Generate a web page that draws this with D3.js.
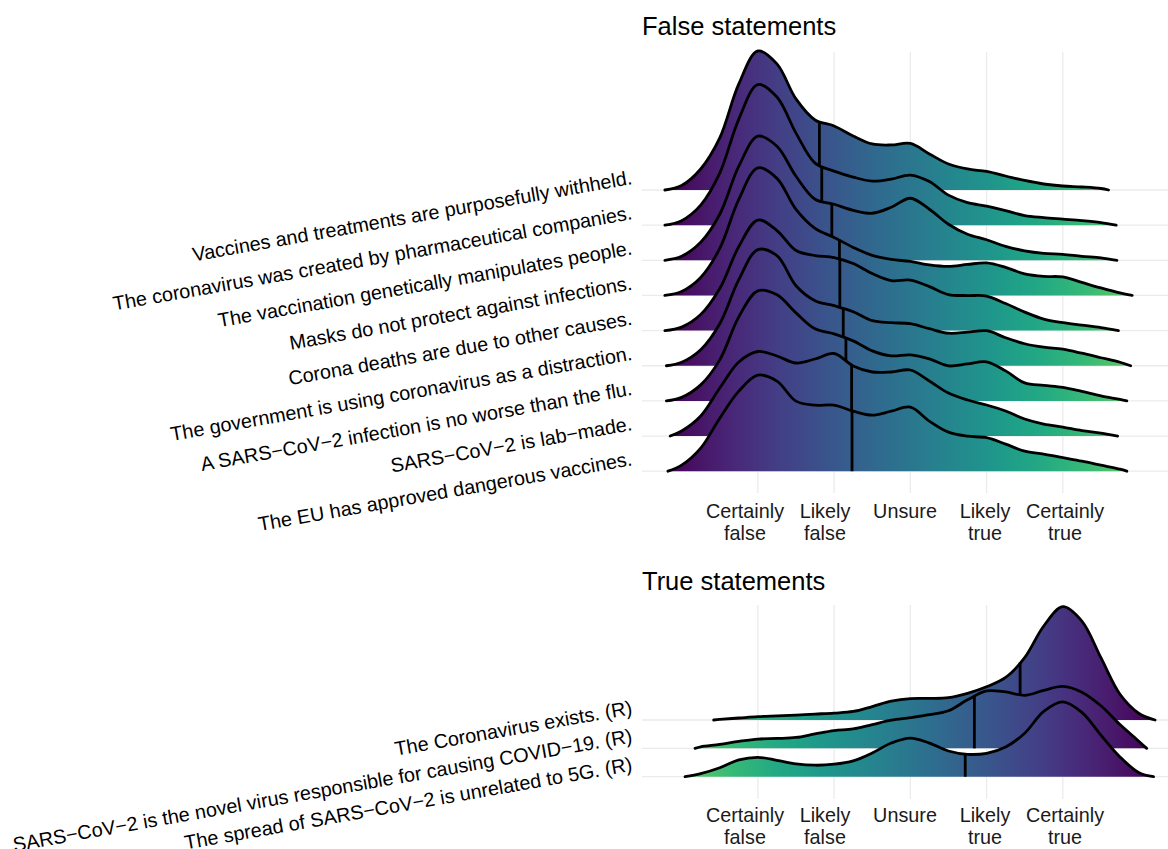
<!DOCTYPE html>
<html>
<head>
<meta charset="utf-8">
<script src="https://cdn.jsdelivr.net/npm/d3@7"></script>
<style>
  html, body { margin: 0; padding: 0; background: #ffffff; }
  svg { display: block; font-family: "Liberation Sans", Arial, Helvetica, sans-serif; }
</style>
</head>
<body>
<svg id="chart" width="1168" height="849"></svg>
<script>
// ---- Response scale -------------------------------------------------------
const ratingLevels = [1, 2, 3, 4, 5];
const ratingLabels = [["Certainly", "false"], ["Likely", "false"], ["Unsure"], ["Likely", "true"], ["Certainly", "true"]];

// Points (in rating units) at which each density is tabulated
const densityGrid = [-0.25, 0, 0.25, 0.5, 0.75, 1, 1.25, 1.5, 1.75, 2, 2.25, 2.5, 2.75,
                     3, 3.25, 3.5, 3.75, 4, 4.25, 4.5, 4.75, 5, 5.25, 5.5, 5.75, 6, 6.25];

// ---- False statements -----------------------------------------------------
const falseStatements = [
  "Vaccines and treatments are purposefully withheld.",
  "The coronavirus was created by pharmaceutical companies.",
  "The vaccination genetically manipulates people.",
  "Masks do not protect against infections.",
  "Corona deaths are due to other causes.",
  "The government is using coronavirus as a distraction.",
  "A SARS\u2212CoV\u22122 infection is no worse than the flu.",
  "SARS\u2212CoV\u22122 is lab\u2212made.",
  "The EU has approved dangerous vaccines."
];
const falseFrom  = [-0.22, -0.22, -0.22, -0.22, -0.22, -0.2, -0.2, -0.15, -0.18];
const falseTo    = [5.6, 5.7, 5.71, 5.91, 5.73, 5.89, 5.84, 5.72, 5.84];
const falseMeans = [1.807, 1.838, 1.97, 2.07, 2.075, 2.12, 2.155, 2.23, 2.235];
const falseDensity = [
  [null, .018, .084, .208, .424, .556, .504, .364, .28, .256, .216, .184, .18, .186, .144, .104, .084, .074, .056, .038, .024, .016, .012, .006, null, null, null],
  [null, .018, .08, .208, .424, .562, .512, .368, .248, .216, .192, .176, .184, .2, .174, .12, .09, .076, .058, .038, .03, .024, .018, .01, null, null, null],
  [null, .016, .072, .184, .376, .496, .456, .336, .244, .224, .2, .188, .212, .248, .204, .144, .104, .082, .056, .038, .028, .024, .016, .01, null, null, null],
  [null, .016, .072, .188, .384, .51, .468, .344, .268, .232, .192, .16, .144, .136, .122, .116, .124, .13, .112, .086, .076, .074, .052, .03, .01, null, null],
  [null, .014, .064, .168, .336, .442, .4, .32, .3, .292, .268, .228, .2, .202, .176, .144, .14, .138, .108, .074, .046, .032, .022, .012, null, null, null],
  [null, .014, .064, .168, .344, .464, .44, .32, .26, .24, .216, .18, .172, .168, .148, .13, .134, .14, .112, .088, .074, .066, .05, .032, .014, null, null],
  [null, .014, .064, .164, .336, .44, .424, .352, .288, .268, .24, .2, .18, .184, .168, .14, .148, .156, .12, .072, .062, .054, .038, .02, .006, null, null],
  [null, .02, .08, .192, .296, .338, .32, .292, .308, .33, .28, .256, .256, .264, .22, .172, .144, .124, .1, .068, .048, .036, .022, .012, null, null, null],
  [null, .024, .092, .212, .32, .384, .36, .28, .264, .264, .24, .224, .24, .256, .2, .156, .14, .134, .108, .08, .068, .054, .04, .024, .008, null, null]
];

// ---- True statements (reverse coded) --------------------------------------
const trueStatements = [
  "The Coronavirus exists. (R)",
  "SARS\u2212CoV\u22122 is the novel virus responsible for causing COVID\u221219. (R)",
  "The spread of SARS\u2212CoV\u22122 is unrelated to 5G. (R)"
];
const trueFrom  = [0.42, 0.176, 0.045];
const trueTo    = [6.21, 6.1, 6.19];
const trueMeans = [4.44, 3.84, 3.72];
const trueDensity = [
  [null, null, null, .003, .01, .017, .021, .025, .03, .035, .043, .068, .095, .108, .109, .113, .135, .168, .215, .315, .475, .573, .5, .315, .13, .033, null],
  [null, null, .008, .02, .035, .047, .05, .055, .073, .09, .098, .12, .142, .155, .17, .19, .245, .29, .285, .268, .293, .313, .284, .215, .12, .035, null],
  [null, null, .015, .045, .085, .098, .083, .065, .058, .063, .08, .12, .17, .195, .17, .13, .113, .118, .15, .22, .33, .378, .325, .21, .1, .02, null]
];

// ---- Layout ---------------------------------------------------------------
const plotLeft = 642, plotRight = 1168;
const ridgeScale = 4;          // tallest ridge spans four rows
const gridColor = "#ebebeb";
const strokeW = 2.8;
const fontMain = 19.8;
const fontTitle = 25.5;
const labelAngle = -10;

const svg = d3.select("#chart");
const defs = svg.append("defs");

const x = d3.scaleLinear().domain([-0.52, 6.38]).range([plotLeft, plotRight]);
// tick labels sit on a slightly wider spacing than the grid
const labelX = d3.scaleLinear().domain([1, 5]).range([745, 1065]);

const panels = [
  { id: "false", title: "False statements", titleY: 35, top: 52, bottom: 493,
    rowTop: 190, rowBottom: 471.2, axisY: 518,
    labels: falseStatements, from: falseFrom, to: falseTo, means: falseMeans,
    dens: falseDensity, reverse: false },
  { id: "true", title: "True statements", titleY: 590, top: 605, bottom: 799,
    rowTop: 720, rowBottom: 776.7, axisY: 822,
    labels: trueStatements, from: trueFrom, to: trueTo, means: trueMeans,
    dens: trueDensity, reverse: true }
];

const paletteEnd = 0.75;

panels.forEach(p => {
  const g = svg.append("g").attr("class", "panel-" + p.id);
  const y = d3.scalePoint().domain(p.labels).range([p.rowTop, p.rowBottom]);
  const step = y.step();
  const maxD = d3.max(p.dens, row => d3.max(row));
  const h = d3.scaleLinear().domain([0, maxD]).range([0, ridgeScale * step]);

  // colour gradient along x
  const lo = d3.min(p.from), hi = d3.max(p.to);
  const grad = defs.append("linearGradient")
    .attr("id", "grad-" + p.id)
    .attr("gradientUnits", "userSpaceOnUse")
    .attr("x1", x(lo)).attr("x2", x(hi)).attr("y1", 0).attr("y2", 0);
  d3.range(0, 1.0001, 0.05).forEach(s => {
    const t = p.reverse ? (1 - s) * paletteEnd : s * paletteEnd;
    grad.append("stop").attr("offset", s).attr("stop-color", d3.interpolateViridis(t));
  });

  // grid
  const grid = g.append("g").attr("class", "grid");
  grid.selectAll("line.v").data(ratingLevels).join("line")
    .attr("class", "v")
    .attr("x1", d => x(d)).attr("x2", d => x(d))
    .attr("y1", p.top).attr("y2", p.bottom)
    .attr("stroke", gridColor).attr("stroke-width", 1.3);
  grid.selectAll("line.h").data(p.labels).join("line")
    .attr("class", "h")
    .attr("x1", plotLeft).attr("x2", plotRight)
    .attr("y1", d => y(d)).attr("y2", d => y(d))
    .attr("stroke", gridColor).attr("stroke-width", 1.3);

  // ridges, upper rows first so lower rows overlap them
  const curve = d3.curveCatmullRom.alpha(0.5);
  p.labels.forEach((lab, i) => {
    const base = y(lab);
    const pts = [[p.from[i], 0]];
    densityGrid.forEach((v, j) => {
      const d = p.dens[i][j];
      if (d != null && v > p.from[i] && v < p.to[i]) pts.push([v, d]);
    });
    pts.push([p.to[i], 0]);

    const area = d3.area().x(d => x(d[0])).y0(base).y1(d => base - h(d[1])).curve(curve);
    const line = d3.line().x(d => x(d[0])).y(d => base - h(d[1])).curve(curve);

    const rg = g.append("g").attr("class", "ridge");
    rg.append("path").attr("d", area(pts)).attr("fill", `url(#grad-${p.id})`);
    rg.append("path").attr("d", line(pts)).attr("fill", "none")
      .attr("stroke", "#000").attr("stroke-width", strokeW)
      .attr("stroke-linejoin", "round").attr("stroke-linecap", "round");

    // mean line
    const m = p.means[i];
    const k = d3.bisector(d => d[0]).right(pts, m);
    const a = pts[k - 1], b = pts[k];
    const dm = a[1] + (b[1] - a[1]) * (m - a[0]) / (b[0] - a[0]);
    rg.append("line")
      .attr("x1", x(m)).attr("x2", x(m))
      .attr("y1", base).attr("y2", base - h(dm))
      .attr("stroke", "#000").attr("stroke-width", strokeW);
  });

  // row labels
  g.append("g").attr("class", "ylabels").selectAll("text").data(p.labels).join("text")
    .attr("transform", d => `translate(633,${y(d) - 6}) rotate(${labelAngle})`)
    .attr("text-anchor", "end")
    .attr("font-size", fontMain)
    .attr("fill", "#000")
    .text(d => d);

  // x tick labels
  const xl = g.append("g").attr("class", "xlabels");
  ratingLevels.forEach((v, i) => {
    const t = xl.append("text")
      .attr("text-anchor", "middle")
      .attr("font-size", fontMain)
      .attr("fill", "#1a1a1a");
    ratingLabels[i].forEach((line, li) => {
      t.append("tspan").attr("x", labelX(v)).attr("y", p.axisY + li * 22).text(line);
    });
  });

  // title
  g.append("text").attr("x", plotLeft).attr("y", p.titleY)
    .attr("font-size", fontTitle).attr("fill", "#000").text(p.title);
});
</script>
</body>
</html>
